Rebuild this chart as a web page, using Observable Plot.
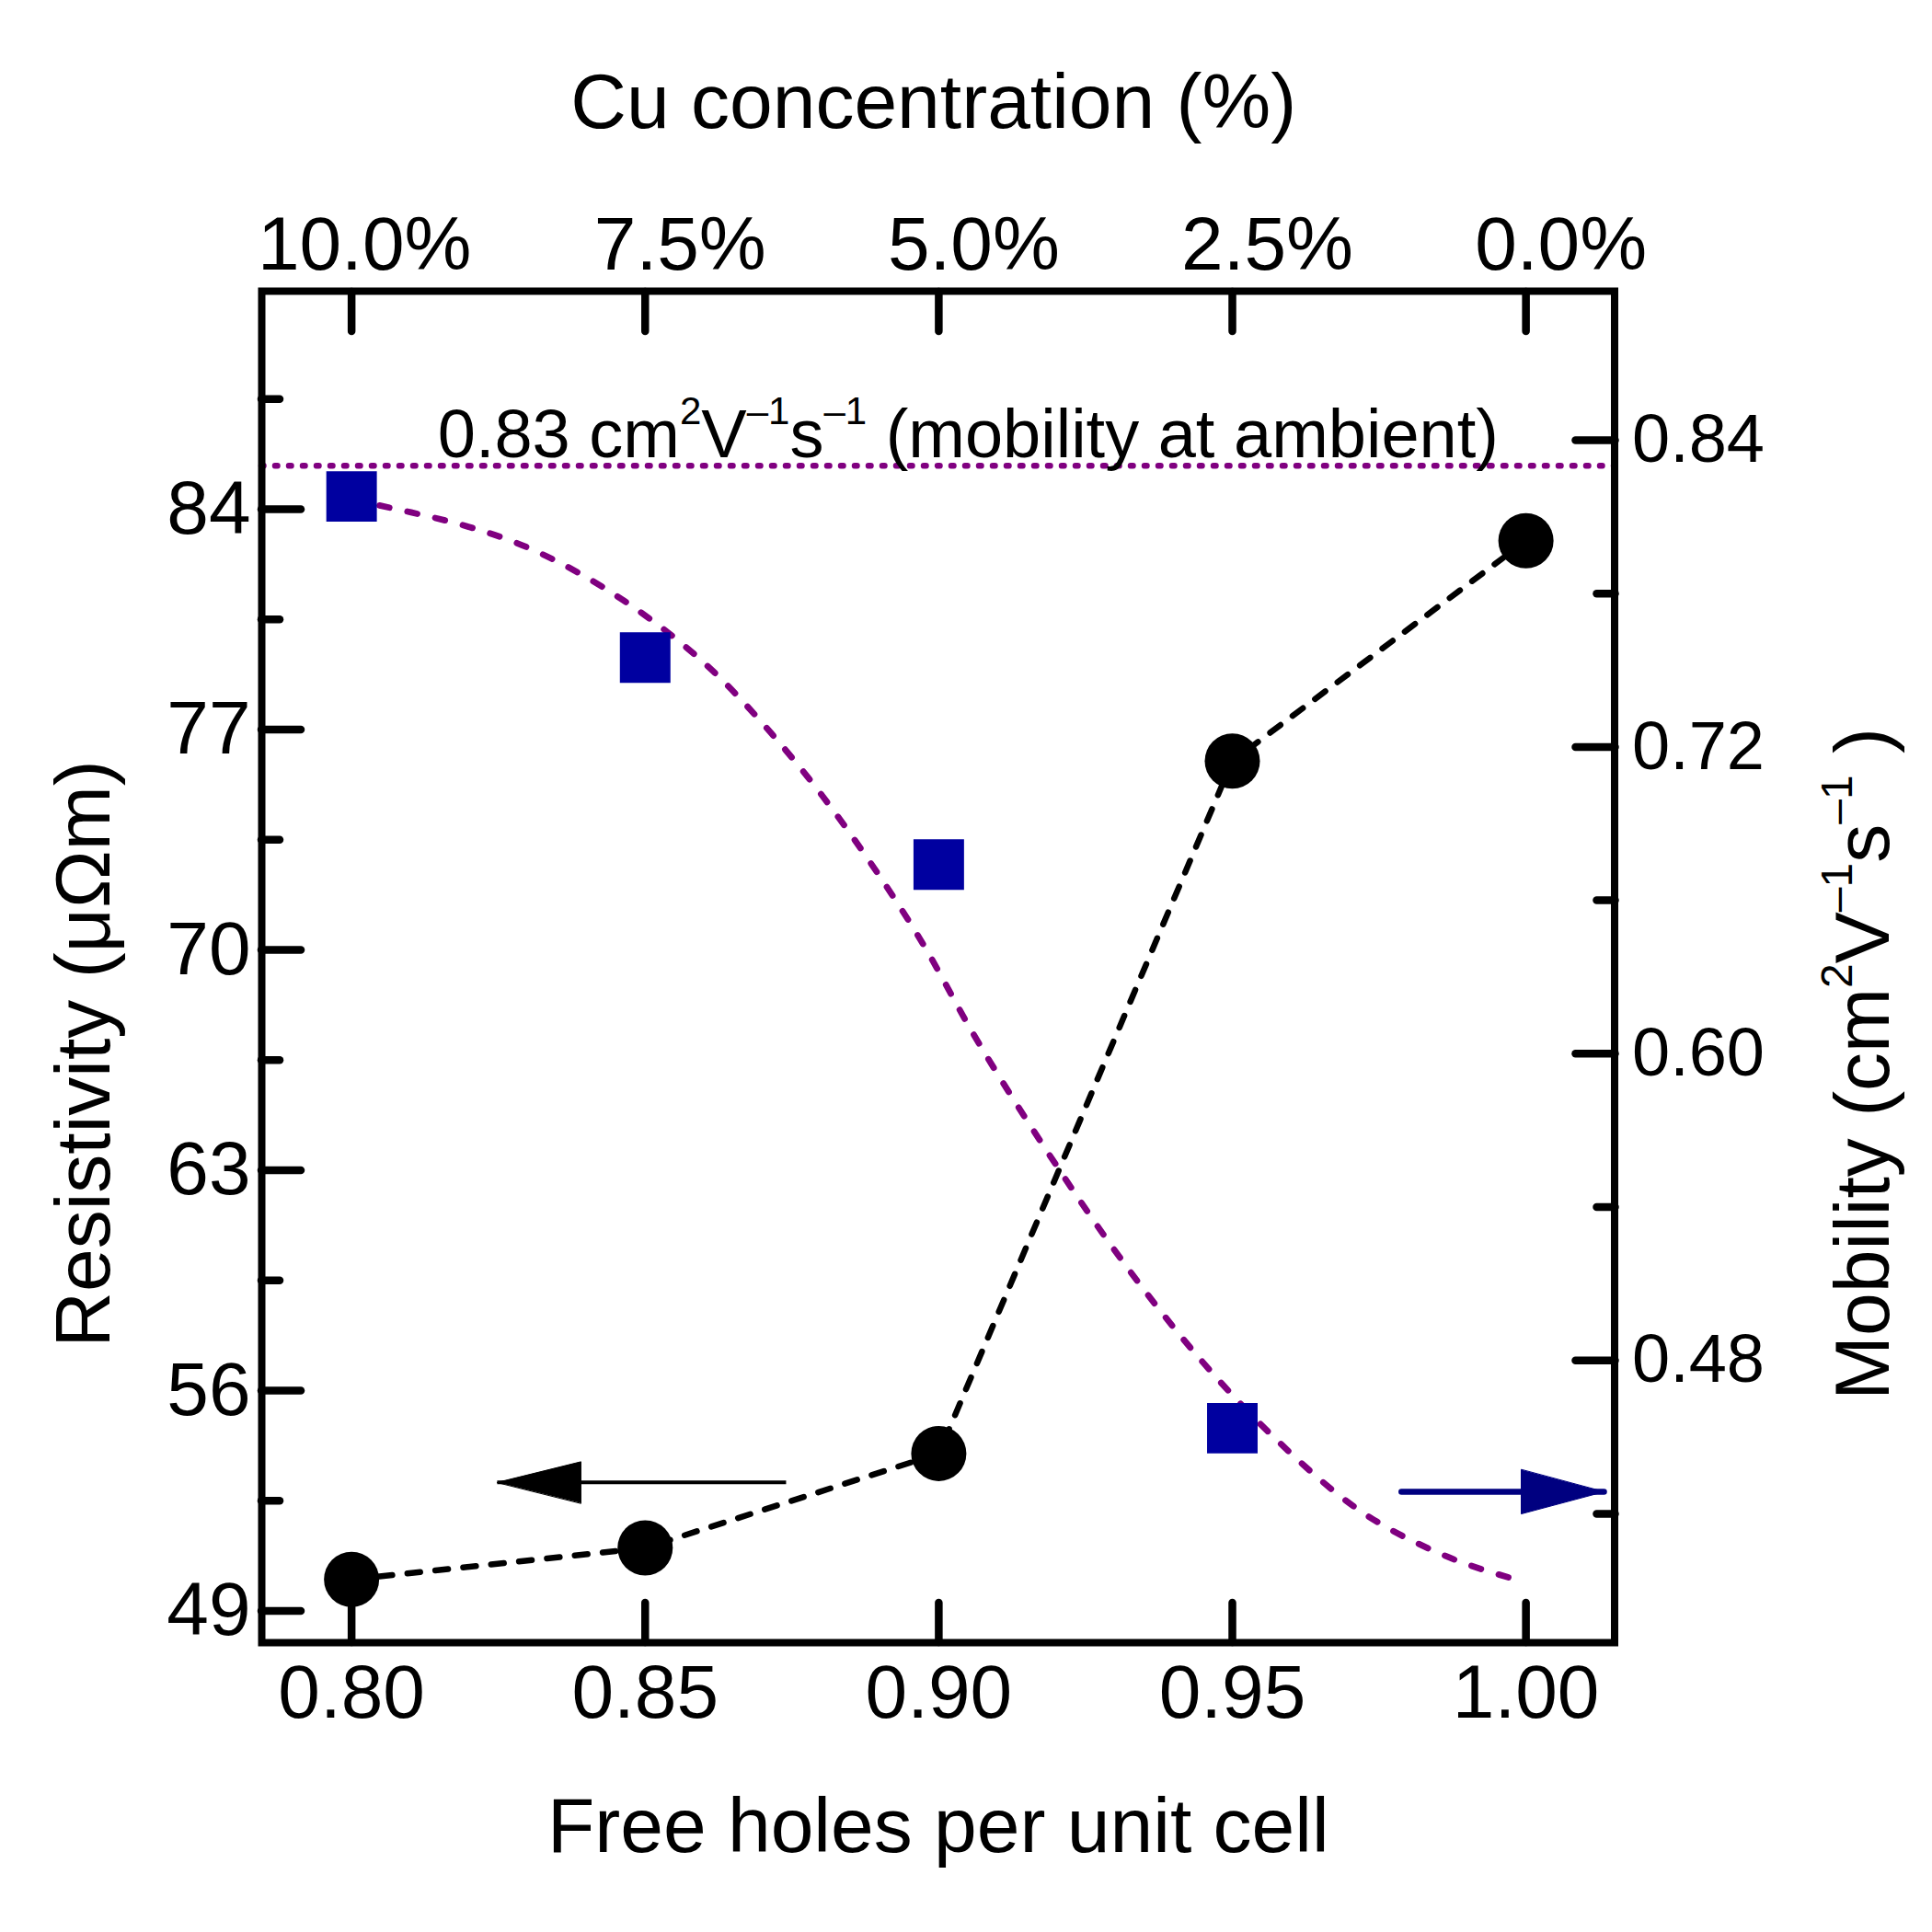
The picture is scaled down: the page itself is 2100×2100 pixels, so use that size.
<!DOCTYPE html>
<html>
<head>
<meta charset="utf-8">
<script src="https://cdn.jsdelivr.net/npm/d3@7"></script>
<script src="https://cdn.jsdelivr.net/npm/@observablehq/plot@0.6"></script>
<style>
  body { margin: 0; background: #fff; }
  #chart svg { font-family: "Liberation Sans", Arial, sans-serif; }
</style>
</head>
<body>
<div id="chart"></div>
<script>
// ---------- data ----------
const holes = [0.80, 0.85, 0.90, 0.95, 1.00];
const cuLabels = ["10.0%", "7.5%", "5.0%", "2.5%", "0.0%"];
const resistivity = [50.0, 51.0, 54.0, 76.0, 83.0];
const mobilityHoles = [0.80, 0.85, 0.90, 0.95];
const mobility = [0.818, 0.755, 0.674, 0.4535];
const fitHoles = [0.80, 0.8091, 0.8181, 0.8279, 0.8389, 0.8462, 0.8538, 0.8614, 0.8710, 0.8802, 0.8890, 0.8974, 0.9054, 0.9186, 0.9318, 0.9449, 0.9581, 0.9713, 0.9845, 1.00];
const fitMobility = [0.8167, 0.8123, 0.8073, 0.8000, 0.7878, 0.7775, 0.7649, 0.7500, 0.7266, 0.7008, 0.6726, 0.6426, 0.6097, 0.5613, 0.5173, 0.4795, 0.4477, 0.4219, 0.4053, 0.3932];
const ambientMobility = 0.83;
const resTicks = [49, 56, 63, 70, 77, 84];
const resMinorTicks = [52.5, 59.5, 66.5, 73.5, 80.5, 87.5];
const mobTicks = [0.48, 0.60, 0.72, 0.84];
const mobMinorTicks = [0.42, 0.54, 0.66, 0.78];
const xDomain = [0.7847, 1.0151];
const resDomain = [47.99, 90.93];
const mobDomain = [0.3696, 0.8983];
const leftArrow = [{tail: 0.874, tip: 0.8248, res: 53.08}];
const rightArrow = [{tail: 0.9788, tip: 1.0133, mob: 0.4286}];
const annotX = 0.905;

// ---------- helpers ----------
const toRes = d3.scaleLinear().domain(mobDomain).range(resDomain);
const purple = "#800080";
const squareBlue = "#0000A0";
const navy = "#000080";

const resTable = holes.map((h, i) => ({h, r: resistivity[i]}));
const mobTable = mobilityHoles.map((h, i) => ({h, m: mobility[i]}));
const fitTable = fitHoles.map((h, i) => ({h, m: fitMobility[i]}));
const cuFormat = (d) => cuLabels[holes.findIndex((h) => Math.abs(h - d) < 1e-9)];

const annotPlain = `${ambientMobility.toFixed(2)} cm2V-1s-1 (mobility at ambient)`;
const mobTitlePlain = "Mobility (cm2V-1s-1)";

const triHead = (w) => ({
  draw(context, l) {
    context.moveTo(0, -l);
    context.lineTo(w, 0);
    context.lineTo(-w, 0);
    context.closePath();
  }
});

const tickStyle = {strokeWidth: 8.5, strokeLinecap: "round", tickFormat: () => "", label: null};

const chart = Plot.plot({
  width: 2100,
  height: 2100,
  marginLeft: 284,
  marginRight: 345.5,
  marginTop: 316,
  marginBottom: 315,
  style: {fontFamily: "'Liberation Sans', Arial, sans-serif", background: "white", color: "black"},
  x: {domain: xDomain, label: null},
  y: {domain: resDomain, label: null},
  marks: [
    // ambient mobility dotted line
    Plot.ruleY([ambientMobility], {y: (d) => toRes(d), stroke: purple, strokeWidth: 6.5, strokeDasharray: "2.5,12.5", strokeLinecap: "round"}),
    // fit curve
    Plot.line(fitTable, {x: "h", y: (d) => toRes(d.m), curve: "monotone-x", stroke: purple, strokeWidth: 6.8, strokeDasharray: "11,20", strokeLinecap: "round"}),
    // resistivity dashed connection
    Plot.line(resTable, {x: "h", y: "r", stroke: "black", strokeWidth: 6.5, strokeDasharray: "14,16.5", strokeLinecap: "round"}),
    // points
    Plot.dot(resTable, {x: "h", y: "r", r: 30, fill: "black"}),
    Plot.dot(mobTable, {x: "h", y: (d) => toRes(d.m), symbol: "square", r: 31, fill: squareBlue}),
    // arrows
    Plot.link(leftArrow, {x1: "tail", x2: "tip", y1: "res", y2: "res", stroke: "black", strokeWidth: 4}),
    Plot.vector(leftArrow, {x: "tip", y: "res", rotate: -90, anchor: "end", length: 91, shape: triHead(22.5), fill: "black", stroke: "black", strokeWidth: 1}),
    Plot.link(rightArrow, {x1: "tail", x2: "tip", y1: (d) => toRes(d.mob), y2: (d) => toRes(d.mob), stroke: navy, strokeWidth: 6.5, strokeLinecap: "round"}),
    Plot.vector(rightArrow, {x: "tip", y: (d) => toRes(d.mob), rotate: 90, anchor: "end", length: 90, shape: triHead(24), fill: navy, stroke: navy, strokeWidth: 1}),
    // annotation
    Plot.text([ambientMobility], {x: () => annotX, y: (d) => toRes(d), text: () => annotPlain, lineAnchor: "bottom", textAnchor: "middle", dy: -9, fontSize: 74, fill: "black"}),
    // frame
    Plot.frame({stroke: "black", strokeWidth: 8}),
    // bottom axis
    Plot.axisX(holes, {anchor: "bottom", tickSize: -43, ...tickStyle}),
    Plot.axisX(holes, {anchor: "bottom", tickSize: 0, tickPadding: 23, tickFormat: (d) => d.toFixed(2), fontSize: 82, label: null}),
    // top axis
    Plot.axisX(holes, {anchor: "top", tickSize: -43, ...tickStyle}),
    Plot.axisX(holes.slice(0, 1), {anchor: "top", tickSize: 0, tickPadding: 24, dx: 14, tickFormat: cuFormat, fontSize: 82, label: null}),
    Plot.axisX(holes.slice(1), {anchor: "top", tickSize: 0, tickPadding: 24, dx: 38, tickFormat: cuFormat, fontSize: 82, label: null}),
    // left axis
    Plot.axisY(resTicks, {anchor: "left", tickSize: -43, ...tickStyle}),
    Plot.axisY(resMinorTicks, {anchor: "left", tickSize: -20, ...tickStyle}),
    Plot.axisY(resTicks, {anchor: "left", tickSize: 0, tickPadding: 12, tickFormat: (d) => String(d), fontSize: 82, label: null}),
    // right axis (mobility)
    Plot.axisY(mobTicks.map((m) => toRes(m)), {anchor: "right", tickSize: -43, ...tickStyle}),
    Plot.axisY(mobMinorTicks.map((m) => toRes(m)), {anchor: "right", tickSize: -20, ...tickStyle}),
    Plot.axisY(mobTicks.map((m) => toRes(m)), {anchor: "right", tickSize: 0, tickPadding: 19, tickFormat: (d) => toRes.invert(d).toFixed(2), fontSize: 74, label: null}),
    // axis titles
    Plot.text(["Cu concentration (%)"], {frameAnchor: "top", text: (d) => d, lineAnchor: "bottom", textAnchor: "middle", dy: -178, dx: -5, fontSize: 84, fill: "black"}),
    Plot.text(["Free holes per unit cell"], {frameAnchor: "bottom", text: (d) => d, lineAnchor: "bottom", textAnchor: "middle", dy: 227, fontSize: 84, fill: "black"}),
    Plot.text(["Resistivity (μΩm)"], {frameAnchor: "left", text: (d) => d, rotate: -90, lineAnchor: "bottom", textAnchor: "middle", dx: -166, dy: 94.5, fontSize: 84, fill: "black"}),
    Plot.text([mobTitlePlain], {frameAnchor: "right", text: (d) => d, rotate: -90, lineAnchor: "bottom", textAnchor: "middle", dx: 297.5, dy: 105.5, fontSize: 84, fill: "black"})
  ]
});

document.getElementById("chart").appendChild(chart);

// rich text with superscripts
function richText(plain, parts, supSize, raise) {
  const t = Array.from(chart.querySelectorAll("text")).find((el) => el.textContent === plain);
  if (!t) return;
  t.textContent = "";
  let shifted = false;
  for (const [s, sup] of parts) {
    const ts = document.createElementNS("http://www.w3.org/2000/svg", "tspan");
    ts.textContent = s;
    if (sup) {
      ts.setAttribute("font-size", supSize);
      if (!shifted) { ts.setAttribute("dy", -raise); shifted = true; }
    } else if (shifted) {
      ts.setAttribute("dy", raise);
      shifted = false;
    }
    t.appendChild(ts);
  }
}
richText(annotPlain, [[`${ambientMobility.toFixed(2)} cm`], ["2", true], ["V"], ["\u20131", true], ["s"], ["\u20131", true], [" (mobility at ambient)"]], 42, 36);
richText(mobTitlePlain, [["Mobility (cm"], ["2", true], ["V"], ["\u20131", true], ["s"], ["\u20131", true], [" )"]], 48, 40);
</script>
</body>
</html>
